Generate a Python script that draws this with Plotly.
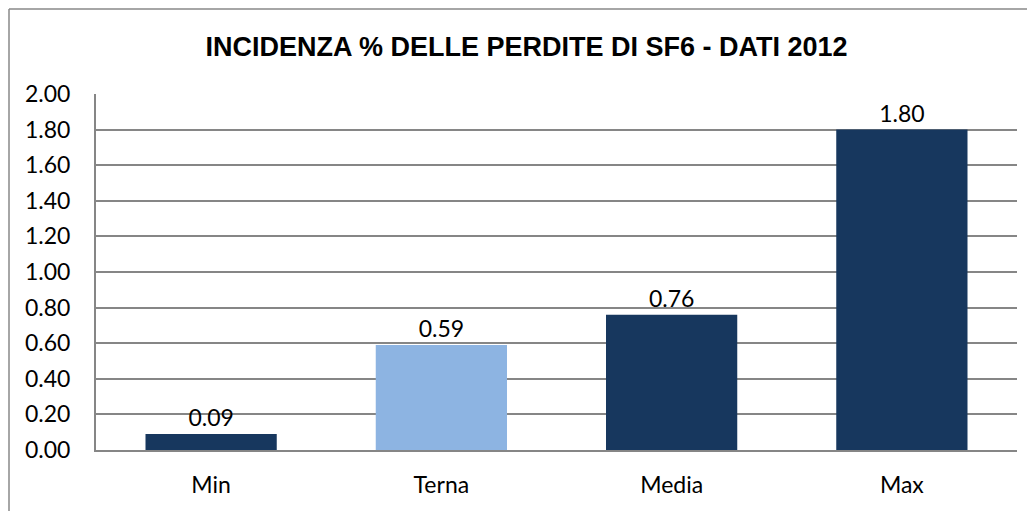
import plotly.graph_objects as go

categories = ["Min", "Terna", "Media", "Max"]
values = [0.09, 0.59, 0.76, 1.80]
bar_colors = ["#17375E", "#8DB4E2", "#17375E", "#17375E"]
tick_vals = [0.0, 0.2, 0.4, 0.6, 0.8, 1.0, 1.2, 1.4, 1.6, 1.8, 2.0]
title_text = "INCIDENZA % DELLE PERDITE DI SF6 - DATI 2012"

W, H = 1035, 511
OFF = 8  # page body margin
L, T = 96 - OFF, 94 - OFF
pw, ph = 921, 356
R = W - L - pw
B = H - T - ph

FS = 23

fig = go.Figure(go.Bar(
    x=categories, y=values,
    marker=dict(color=bar_colors, line=dict(width=0)),
    width=0.57,
    text=[f"{v:.2f}" for v in values],
    textposition="outside",
    textfont=dict(family="Lato, Open Sans, sans-serif", size=FS, color="#000"),
    cliponaxis=False,
))

def px_x(p):
    return (p - OFF - L) / pw

def px_y(p):
    return (T + ph - (p - OFF)) / ph

# outer chart border (top and left)
fig.add_shape(type="line", xref="paper", yref="paper",
              x0=px_x(9), x1=px_x(1045), y0=px_y(9), y1=px_y(9),
              line=dict(color="#888888", width=1.5))
fig.add_shape(type="line", xref="paper", yref="paper",
              x0=px_x(9), x1=px_x(9), y0=px_y(9), y1=px_y(530),
              line=dict(color="#888888", width=1.5))

fig.update_layout(
    width=W, height=H,
    margin=dict(l=L, r=R, t=T, b=B),
    paper_bgcolor="white", plot_bgcolor="white",
    showlegend=False,
    title=dict(text=f"<b>{title_text}</b>", xref="paper", x=px_x(526.5), xanchor="center",
               yref="container", y=1 - (47 - OFF) / H, yanchor="middle",
               font=dict(family="Arial, Liberation Sans, sans-serif", size=27, color="#000")),
    font=dict(family="Lato, Open Sans, sans-serif", size=FS, color="#000"),
    xaxis=dict(showline=True, linecolor="#868686", linewidth=2, ticks="",
               tickfont=dict(size=FS), showgrid=False, ticklabelstandoff=13),
    yaxis=dict(range=[0, 2.0], tickvals=tick_vals, tickformat=".2f",
               showline=True, linecolor="#868686", linewidth=2,
               showgrid=True, gridcolor="#868686", gridwidth=1.5,
               ticks="", tickfont=dict(size=FS), zeroline=False,
               ticklabelstandoff=19),
)
fig.write_html("out.html")
